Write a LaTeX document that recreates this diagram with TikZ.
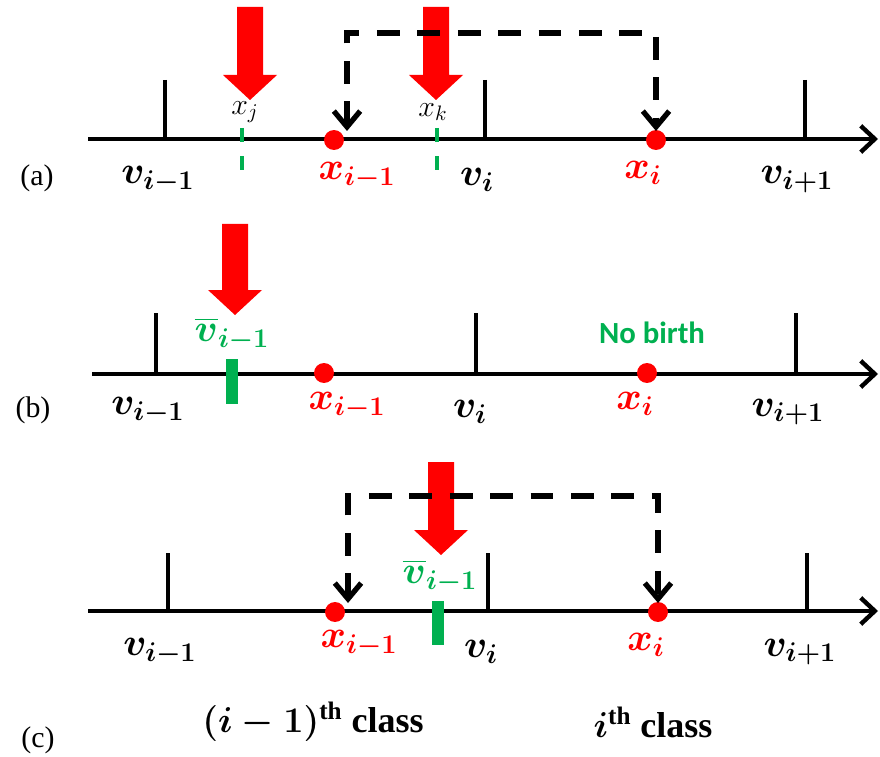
\documentclass[tikz,border=0pt]{standalone}
\usepackage{fix-cm}
\usepackage[no-math]{fontspec}
\setmainfont{Liberation Serif}
\newfontfamily\calfont{Carlito}
\usepackage{amsmath}
\definecolor{hitred}{HTML}{FF0000}
\definecolor{birthgreen}{HTML}{00B050}
\usepackage{tikz}
\usetikzlibrary{arrows.meta, positioning, calc}

% fat red arrow: centre x, top y, tip y
\newcommand{\hitarrow}[3]{%
  \fill[hitred] (#1-13,#2) -- (#1+13,#2) -- (#1+13,#3-25) -- (#1+27,#3-25)
    -- (#1,#3) -- (#1-27,#3-25) -- (#1-13,#3-25) -- cycle;}

\begin{document}
\begin{tikzpicture}[x=0.02cm, y=-0.02cm,
    axis/.style={line width=2.5pt, -{Straight Barb[length=8pt, width=15pt]}},
    tick/.style={line width=2pt},
    dot/.style={circle, fill=hitred, inner sep=0pt, minimum size=0.4cm},
    route/.style={line width=3pt, dash pattern=on 13pt off 10pt,
      {Straight Barb[length=9pt, width=15pt]}-{Straight Barb[length=9pt, width=15pt]}},
    gmark/.style={draw=birthgreen, line width=2pt, dash pattern=on 8pt off 8pt},
    bar/.style={draw=birthgreen, line width=6.5pt},
    lbl/.style={font=\fontsize{22}{26}\selectfont\boldmath, inner sep=0pt},
    hitlbl/.style={lbl, text=hitred},
    barlbl/.style={lbl, text=birthgreen},
    sublbl/.style={font=\fontsize{17}{20}\selectfont, inner sep=0pt},
    tag/.style={font=\fontsize{17}{20}\selectfont, inner sep=0pt},
    cls/.style={font=\fontsize{20.5}{24}\selectfont\bfseries\boldmath, inner sep=0pt},
]
    \useasboundingbox (0,0) rectangle (880,757);

    % (a)
    \hitarrow{250}{7}{100}
    \hitarrow{436}{7}{100}
    \coordinate (a0) at (88,139);
    \coordinate (a1) at (878,139);
    \draw[axis] (a0) -- (a1);
    \foreach \x in {165,485,805} \draw[tick] (\x,80) -- (\x,139);
    \draw[gmark] (242,128) -- (242,173);
    \draw[gmark] (437,128) -- (437,173);
    \node[dot] (xa0) at (334,140) {};
    \node[dot] (xa1) at (656,140) {};
    \coordinate (atop) at (500,33);
    \draw[route] ($(xa0)+(13,-9)$) |- (atop) -| ($(xa1)+(0,-9)$);
    \node[sublbl] (xj) at (245,112) {$x_j$};
    \node[sublbl] (xk) at (433,112) {$x_k$};
    \node[lbl] (va0) at (158,180) {$v_{i-1}$};
    \node[hitlbl] (lxa0) at (357,176) {$x_{i-1}$};
    \node[lbl] (va1) at (477,180) {$v_i$};
    \node[hitlbl] (lxa1) at (643,173) {$x_i$};
    \node[lbl] (va2) at (797,180) {$v_{i+1}$};
    \node[tag] (taga) at (37,178) {(a)};

    % (b)
    \hitarrow{235}{224}{315}
    \coordinate (b0) at (92,374);
    \coordinate (b1) at (878,374);
    \draw[axis] (b0) -- (b1);
    \foreach \x in {156,476,796} \draw[tick] (\x,313) -- (\x,374);
    \draw[bar] (232,359) -- (232,404);
    \node[dot] (xb0) at (324,373) {};
    \node[dot] (xb1) at (647,373) {};
    \node[barlbl] (vbar) at (232,334) {$\overline{v}_{i-1}$};
    \node[font=\calfont\bfseries\fontsize{17.5}{20}\selectfont, text=birthgreen, inner sep=0pt]
      (nobirth) at (652,333) {No birth};
    \node[lbl] (vb0) at (148,411) {$v_{i-1}$};
    \node[hitlbl] (lxb0) at (347,406) {$x_{i-1}$};
    \node[lbl] (vb1) at (470,412) {$v_i$};
    \node[hitlbl] (lxb1) at (635,404) {$x_i$};
    \node[lbl] (vb2) at (788,412) {$v_{i+1}$};
    \node[tag] (tagb) at (33,410) {(b)};

    % (c)
    \hitarrow{441}{462}{555}
    \coordinate (c0) at (88,611);
    \coordinate (c1) at (878,611);
    \draw[axis] (c0) -- (c1);
    \foreach \x in {168,488,807} \draw[tick] (\x,553) -- (\x,611);
    \draw[bar] (438,601) -- (438,645);
    \node[dot] (xc0) at (335,612) {};
    \node[dot] (xc1) at (658,612) {};
    \coordinate (ctop) at (500,496);
    \draw[route] ($(xc0)+(13,-9)$) |- (ctop) -| ($(xc1)+(0,-9)$);
    \node[barlbl] (vbarc) at (440,576) {$\overline{v}_{i-1}$};
    \node[lbl] (vc0) at (160,652) {$v_{i-1}$};
    \node[hitlbl] (lxc0) at (359,644) {$x_{i-1}$};
    \node[lbl] (vc1) at (481,652) {$v_i$};
    \node[hitlbl] (lxc1) at (646,645) {$x_i$};
    \node[lbl] (vc2) at (800,652) {$v_{i+1}$};
    \node[cls] (clsa) at (313,722) {$(i-1)$\textsuperscript{th} class};
    \node[cls] (clsb) at (653,722) {$i$\textsuperscript{th} class};
    \node[tag] (tagc) at (38,740) {(c)};
\end{tikzpicture}
\end{document}
